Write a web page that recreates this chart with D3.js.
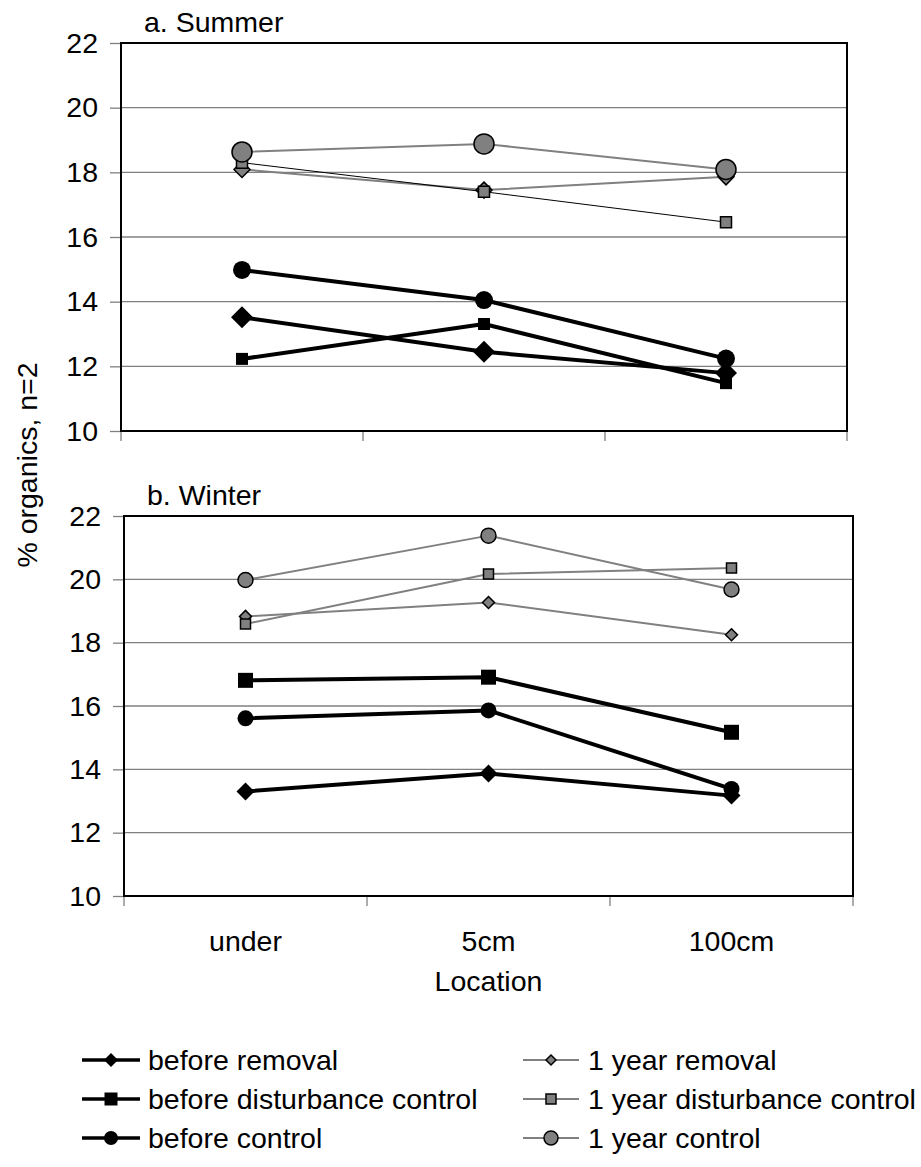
<!DOCTYPE html>
<html>
<head>
<meta charset="utf-8">
<script src="https://cdn.jsdelivr.net/npm/d3@7"></script>
<style>
  html, body { margin: 0; padding: 0; background: #fff; }
  svg { display: block; font-family: "Liberation Sans", Arial, sans-serif; }
</style>
</head>
<body>
<svg id="chart" width="921" height="1167"></svg>
<script>
// Sampling locations along the x axis
const locations = ["under", "5cm", "100cm"];
const yTicks = [10, 12, 14, 16, 18, 20, 22];

const seriesNames = [
  "before removal",
  "before disturbance control",
  "before control",
  "1 year removal",
  "1 year disturbance control",
  "1 year control"
];

// % organics, summer sampling
const summerBeforeRemoval = [13.52, 12.45, 11.79];
const summerBeforeDisturbance = [12.23, 13.31, 11.48];
const summerBeforeControl = [14.98, 14.05, 12.24];
const summerYearRemoval = [18.09, 17.45, 17.86];
const summerYearDisturbance = [18.30, 17.40, 16.46];
const summerYearControl = [18.63, 18.88, 18.09];

// % organics, winter sampling
const winterBeforeRemoval = [13.30, 13.87, 13.17];
const winterBeforeDisturbance = [16.81, 16.91, 15.17];
const winterBeforeControl = [15.61, 15.86, 13.38];
const winterYearRemoval = [18.83, 19.27, 18.25];
const winterYearDisturbance = [18.59, 20.17, 20.36];
const winterYearControl = [19.98, 21.38, 19.68];

const GREY = "#808080";

// Series look: symbol shape, fill, line weight
const seriesStyle = [
  { shape: "diamond", fill: "#000", line: "#000", width: 4 },
  { shape: "square", fill: "#000", line: "#000", width: 4 },
  { shape: "circle", fill: "#000", line: "#000", width: 4 },
  { shape: "diamond", fill: GREY, line: GREY, width: 2 },
  { shape: "square", fill: GREY, line: GREY, width: 2 },
  { shape: "circle", fill: GREY, line: GREY, width: 2 }
];

const panels = [
  {
    title: "a. Summer",
    box: { left: 121, right: 847, top: 43, bottom: 431 },
    data: [summerBeforeRemoval, summerBeforeDisturbance, summerBeforeControl,
           summerYearRemoval, summerYearDisturbance, summerYearControl],
    // marker half-sizes per series
    sizes: [11, 6, 9, 8, 5.5, 10],
    lineOverride: { 4: { line: "#000", width: 1 } }
  },
  {
    title: "b. Winter",
    box: { left: 124, right: 853, top: 516, bottom: 896 },
    data: [winterBeforeRemoval, winterBeforeDisturbance, winterBeforeControl,
           winterYearRemoval, winterYearDisturbance, winterYearControl],
    sizes: [9, 7.5, 8, 6, 5, 7.5],
    lineOverride: {}
  }
];

const svg = d3.select("#chart");
const FONT = 28.5;

function symbolPath(shape, s) {
  if (shape === "diamond") return `M0,${-s}L${s},0L0,${s}L${-s},0Z`;
  if (shape === "square") return `M${-s},${-s}H${s}V${s}H${-s}Z`;
  return null;
}

function drawMarker(g, shape, s, fill, stroke, sw) {
  if (shape === "circle") {
    return g.append("circle").attr("r", s).attr("fill", fill)
      .attr("stroke", stroke).attr("stroke-width", sw);
  }
  return g.append("path").attr("d", symbolPath(shape, s)).attr("fill", fill)
    .attr("stroke", stroke).attr("stroke-width", sw);
}

panels.forEach((p, pi) => {
  const b = p.box;
  const x = d3.scaleBand().domain(locations).range([b.left, b.right]).padding(0);
  const y = d3.scaleLinear().domain([10, 22]).range([b.bottom, b.top]);
  const cx = d => x(d) + x.bandwidth() / 2;

  const g = svg.append("g");

  // horizontal gridlines
  g.append("g").selectAll("line").data(yTicks.slice(1, -1)).join("line")
    .attr("x1", b.left).attr("x2", b.right)
    .attr("y1", d => y(d)).attr("y2", d => y(d))
    .attr("stroke", GREY).attr("stroke-width", 1.3);

  // y axis with outside ticks
  const yAxis = d3.axisLeft(y).tickValues(yTicks).tickSize(11).tickPadding(12);
  const ya = g.append("g").attr("transform", `translate(${b.left},0)`).call(yAxis);
  ya.select(".domain").remove();
  ya.selectAll(".tick line").attr("stroke", GREY).attr("stroke-width", 1.3);
  ya.selectAll(".tick text").attr("font-size", FONT).attr("fill", "#000")
    .attr("font-family", "Liberation Sans, Arial, sans-serif");

  // x axis ticks at category boundaries
  const bounds = locations.map(d => x(d)).concat([b.right]);
  g.append("g").selectAll("line").data(bounds).join("line")
    .attr("x1", d => d).attr("x2", d => d)
    .attr("y1", b.bottom).attr("y2", b.bottom + 10)
    .attr("stroke", GREY).attr("stroke-width", 1.3);

  // plot frame
  g.append("rect").attr("x", b.left).attr("y", b.top)
    .attr("width", b.right - b.left).attr("height", b.bottom - b.top)
    .attr("fill", "none").attr("stroke", "#000").attr("stroke-width", 2);

  // panel title
  g.append("text").attr("x", b.left + 23).attr("y", b.top - 11)
    .attr("font-size", FONT).text(p.title);

  // series lines, then markers
  p.data.forEach((vals, si) => {
    const st = Object.assign({}, seriesStyle[si], p.lineOverride[si] || {});
    const pts = locations.map((loc, i) => [cx(loc), y(vals[i])]);
    g.append("path").attr("d", d3.line()(pts)).attr("fill", "none")
      .attr("stroke", st.line).attr("stroke-width", st.width)
      .attr("stroke-linejoin", "round");
    const mg = g.append("g");
    pts.forEach(pt => {
      const m = mg.append("g").attr("transform", `translate(${pt[0]},${pt[1]})`);
      drawMarker(m, st.shape, p.sizes[si], st.fill, "#000", si < 3 ? 0 : 1.5);
    });
  });

  // category labels under the lower panel
  if (pi === panels.length - 1) {
    g.append("g").selectAll("text").data(locations).join("text")
      .attr("x", d => cx(d)).attr("y", 951).attr("text-anchor", "middle")
      .attr("font-size", FONT).text(d => d);
    g.append("text").attr("x", (b.left + b.right) / 2).attr("y", 991)
      .attr("text-anchor", "middle").attr("font-size", FONT).text("Location");
  }
});

// shared y axis title
svg.append("text").attr("transform", "translate(37,465) rotate(-90)")
  .attr("text-anchor", "middle").attr("font-size", FONT).text("% organics, n=2");

// legend in two columns
const legendCols = [
  { lineX1: 82, lineX2: 140, textX: 148 },
  { lineX1: 523, lineX2: 579, textX: 588 }
];
const legendRows = [1060, 1099, 1138];
const legendSizes = [7, 6.5, 7, 5, 5, 7];

seriesNames.forEach((name, i) => {
  const col = legendCols[Math.floor(i / 3)];
  const row = legendRows[i % 3];
  const st = seriesStyle[i];
  const lg = svg.append("g");
  lg.append("line").attr("x1", col.lineX1).attr("x2", col.lineX2)
    .attr("y1", row).attr("y2", row)
    .attr("stroke", st.line).attr("stroke-width", i < 3 ? 3.5 : 2);
  const m = lg.append("g").attr("transform", `translate(${(col.lineX1 + col.lineX2) / 2},${row})`);
  drawMarker(m, st.shape, legendSizes[i], st.fill, "#000", i < 3 ? 0 : 1.5);
  lg.append("text").attr("x", col.textX).attr("y", row).attr("dy", "0.35em")
    .attr("font-size", FONT).text(name);
});
</script>
</body>
</html>
